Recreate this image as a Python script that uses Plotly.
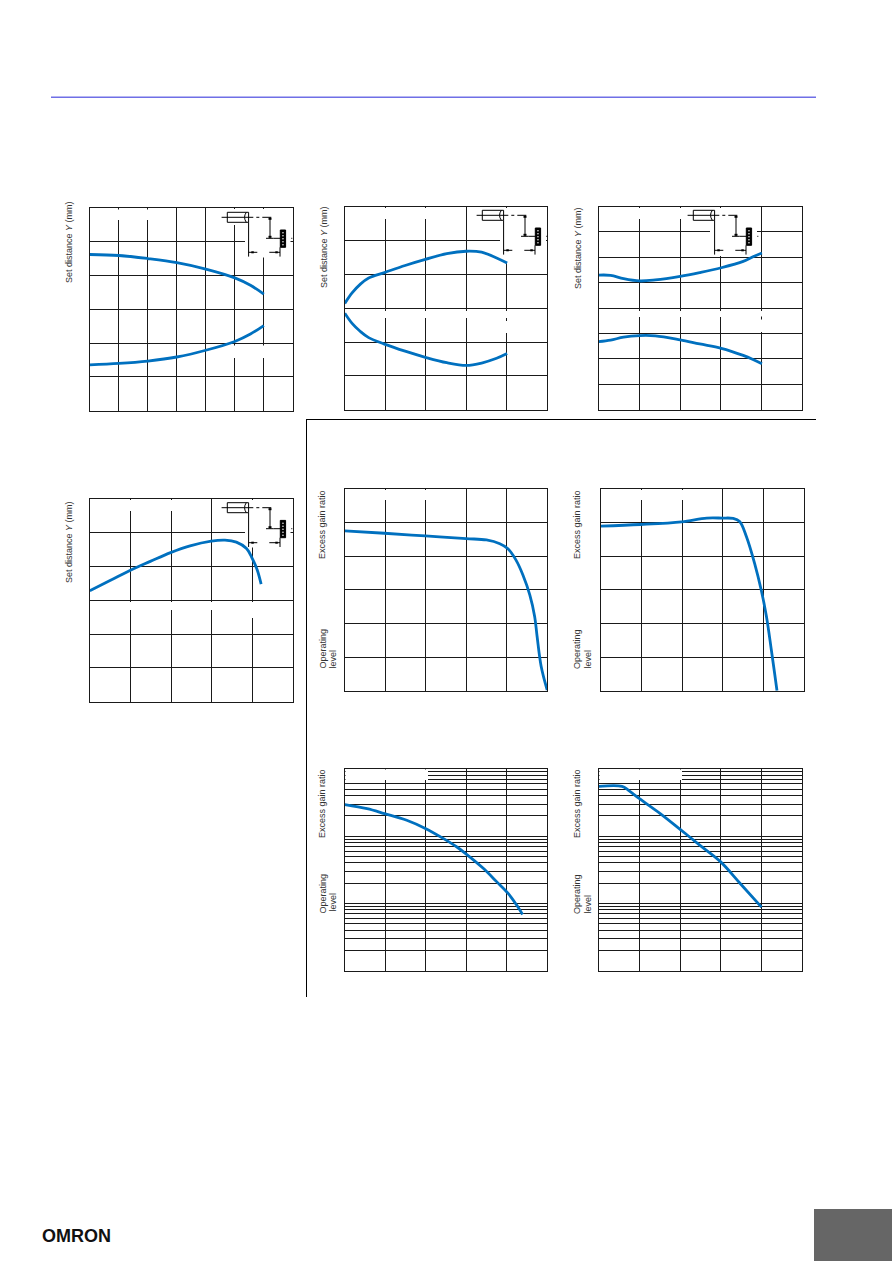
import plotly.graph_objects as go

W, H = 892, 1261
LINE = "#0070bf"
INK = "#1a1a1a"

# --- curve values (x and y in grid divisions; log charts in ratio on a 0.1..100 scale)
a_x = [0, 1, 2, 3, 4, 5, 5.54, 6.0]
a_upper = [4.62, 4.59, 4.50, 4.38, 4.19, 3.93, 3.71, 3.45]
a_lower = [1.36, 1.40, 1.47, 1.59, 1.79, 2.05, 2.27, 2.52]

b_x = [0, .18, .385, .59, .98, 1.49, 1.99, 2.52, 3.0, 3.38, 3.75, 4.01]
b_upper = [3.14, 3.45, 3.71, 3.89, 4.05, 4.26, 4.44, 4.61, 4.68, 4.65, 4.48, 4.33]
b_lower = [2.85, 2.55, 2.31, 2.13, 1.94, 1.73, 1.55, 1.39, 1.31, 1.38, 1.52, 1.66]

c_x = [0, .29, .61, 1.0, 1.39, 2.0, 2.48, 3.01, 3.55, 3.79, 4.01]
c_upper = [5.30, 5.29, 5.16, 5.07, 5.11, 5.25, 5.40, 5.59, 5.84, 6.02, 6.17]
c_lower = [2.68, 2.74, 2.86, 2.92, 2.91, 2.75, 2.59, 2.42, 2.14, 1.98, 1.81]

d_x = [0, .51, 1.0, 1.49, 1.99, 2.47, 2.99, 3.33, 3.61, 3.86, 4.0, 4.12, 4.22]
d_y = [3.28, 3.59, 3.89, 4.15, 4.41, 4.61, 4.75, 4.78, 4.72, 4.53, 4.24, 3.91, 3.48]

e_x = [0, .98, 1.99, 3.0, 3.5, 3.83, 4.03, 4.23, 4.4, 4.57, 4.69, 4.75, 4.85, 5.0]
e_y = [4.75, 4.68, 4.6, 4.52, 4.48, 4.37, 4.22, 3.88, 3.44, 2.85, 2.21, 1.62, .73, .02]

f_x = [0, .98, 1.99, 2.61, 2.99, 3.26, 3.42, 3.59, 3.79, 3.95, 4.08, 4.2, 4.28, 4.34]
f_y = [4.89, 4.94, 5.02, 5.13, 5.13, 5.12, 5.03, 4.57, 3.78, 3.0, 2.21, 1.22, .53, 0]

g_x = [0, .55, .98, 1.53, 1.99, 2.43, 2.76, 3.0, 3.42, 3.75, 4.03, 4.24, 4.39]
g_y = [29.4, 25.6, 21.6, 17.2, 13.0, 9.25, 6.95, 5.42, 3.33, 2.11, 1.42, .955, .687]

h_x = [0, .57, .73, 1.0, 1.51, 2.0, 2.48, 2.99, 3.47, 4.0]
h_y = [54.8, 54.8, 47.9, 36, 21.6, 12.6, 7.36, 4.18, 2.0, .883]

log_grid = [m * 10 ** e for e in (-1, 0, 1) for m in range(1, 10)] + [100]

# --- panel frames in page pixels: left, right, top, bottom, columns, rows
panels = {
    "a": (89.8, 292.8, 207.8, 410.8, 7, 6),
    "b": (344.8, 547.2, 206.5, 409.8, 5, 6),
    "c": (598.8, 802.2, 206.5, 409.8, 5, 8),
    "d": (89.8, 292.8, 498.8, 701.8, 5, 6),
    "e": (344.8, 547.2, 488.8, 690.8, 5, 6),
    "f": (600.8, 803.8, 488.8, 690.8, 5, 6),
    "g": (344.8, 547.2, 768.8, 970.8, 5, None),
    "h": (598.8, 802.2, 768.8, 970.8, 5, None),
}
series = {
    "a": [(a_x, a_upper), (a_x, a_lower)],
    "b": [(b_x, b_upper), (b_x, b_lower)],
    "c": [(c_x, c_upper), (c_x, c_lower)],
    "d": [(d_x, d_y)],
    "e": [(e_x, e_y)],
    "f": [(f_x, f_y)],
    "g": [(g_x, g_y)],
    "h": [(h_x, h_y)],
}
# gaps in the grid, page pixels: x0, x1, y0, y1
gaps = {
    "a": [(92, 157, 209.5, 220), (245, 290.5, 209, 257.5), (226, 245, 209, 225), (230, 268, 345.5, 358)],
    "b": [(347, 430, 208, 219), (500, 546, 208, 262), (346, 470, 311, 318), (504, 510, 311, 318), (504, 510, 321, 333)],
    "c": [(602, 683, 208, 219), (710, 757, 208, 256), (600, 725, 311, 317), (759, 765, 311, 316.5), (759, 765, 319.5, 332)],
    "d": [(92, 173, 500, 511), (245, 290.5, 500, 547.5), (92, 225, 602, 610), (247, 257, 602, 618)],
    "e": [(347, 430, 490, 500)],
    "f": [(603, 685, 490, 500)],
    "g": [(345.5, 428, 769.5, 780)],
    "h": [(599.5, 682, 769.5, 780)],
}
sensor_origins = [(227.3, 212.3), (482.3, 210.3), (693.3, 210.3), (227.3, 502.7)]

labels = [
    ("Set distance <i>Y</i> (mm)", 69, 242, "middle"),
    ("Set distance <i>Y</i> (mm)", 324, 247, "middle"),
    ("Set distance <i>Y</i> (mm)", 578, 248, "middle"),
    ("Set distance <i>Y</i> (mm)", 69, 542, "middle"),
    ("Excess gain ratio", 322, 525, "middle"),
    ("Excess gain ratio", 577, 525, "middle"),
    ("Excess gain ratio", 322, 804, "middle"),
    ("Excess gain ratio", 577, 804, "middle"),
    ("Operating", 322.5, 669, "bottom"),
    ("level", 332, 669, "bottom"),
    ("Operating", 577, 669, "bottom"),
    ("level", 587, 669, "bottom"),
    ("Operating", 322.5, 914, "bottom"),
    ("level", 332, 912, "bottom"),
    ("Operating", 577, 914, "bottom"),
    ("level", 587, 914, "bottom"),
]


def px(x):
    return x / W


def py(y):
    return 1 - y / H


fig = go.Figure()
shapes = []
annots = []


def page_line(x0, y0, x1, y1, color="#000000", width=1, dash=None):
    shapes.append(dict(type="line", xref="paper", yref="paper", x0=px(x0), x1=px(x1), y0=py(y0), y1=py(y1),
                       line=dict(color=color, width=width, dash=dash)))


def page_rect(x0, y0, x1, y1, fill=None, color="#000000", width=1):
    shapes.append(dict(type="rect", xref="paper", yref="paper", x0=px(x0), x1=px(x1), y0=py(y0), y1=py(y1),
                       fillcolor=fill or "rgba(0,0,0,0)", line=dict(color=color, width=width)))


layout = {}
for i, (key, (l, r, t, b, cols, rows)) in enumerate(panels.items(), start=1):
    xn, yn = f"x{i}", f"y{i}"
    is_log = rows is None
    xa = dict(domain=[px(l), px(r)], range=[0, cols], tickvals=list(range(cols + 1)), showticklabels=False,
              ticks="", showgrid=True, gridcolor=INK, gridwidth=1, zeroline=False, showline=True,
              linecolor=INK, linewidth=1, mirror=True, anchor=yn, fixedrange=True)
    ya = dict(domain=[py(b), py(t)], showticklabels=False, ticks="", showgrid=True, gridcolor=INK,
              gridwidth=1, zeroline=False, showline=True, linecolor=INK, linewidth=1, mirror=True,
              anchor=xn, fixedrange=True)
    if is_log:
        ya.update(type="log", range=[-1, 2], tickvals=log_grid)
    else:
        ya.update(range=[0, rows], tickvals=list(range(rows + 1)))
    layout[f"xaxis{i}"] = xa
    layout[f"yaxis{i}"] = ya

    for sx, sy in series[key]:
        fig.add_trace(go.Scatter(x=sx, y=sy, mode="lines", xaxis=xn, yaxis=yn, showlegend=False, hoverinfo="skip",
                                 cliponaxis=False,
                                 line=dict(color=LINE, width=2.8, shape="spline", smoothing=1.0)))

    def to_x(p):
        return (p - l) / (r - l) * cols

    def to_y(p):
        f = (b - p) / (b - t)
        return 10 ** (-1 + 3 * f) if is_log else f * rows

    for x0, x1, y0, y1 in gaps[key]:
        shapes.append(dict(type="rect", layer="between", xref=xn, yref=yn, x0=to_x(x0), x1=to_x(x1),
                           y0=to_y(y1), y1=to_y(y0), fillcolor="#ffffff", line=dict(width=0)))

# --- sensor sketches
for sx, sy in sensor_origins:
    page_rect(sx, sy, sx + 21.3, sy + 10)
    shapes.append(dict(type="path", xref="paper", yref="paper",
                       path=f"M {px(sx + 19)} {py(sy)} Q {px(sx + 15.5)} {py(sy + 5)} {px(sx + 19)} {py(sy + 10)}",
                       line=dict(color="#000000", width=1)))
    page_line(sx - 5.7, sy + 5, sx + 17, sy + 5)
    page_line(sx + 17, sy + 5, sx + 46.7, sy + 5, dash="dashdot")
    page_line(sx + 21.3, sy + 10, sx + 21.3, sy + 44.3)
    page_line(sx + 42.7, sy + 5, sx + 42.7, sy + 26)
    page_rect(sx + 41.2, sy + 5.5, sx + 44.2, sy + 7.5, fill="#000000", width=0)
    page_rect(sx + 41.2, sy + 23.5, sx + 44.2, sy + 25.5, fill="#000000", width=0)
    page_line(sx + 38.7, sy + 26, sx + 46, sy + 26)
    page_line(sx + 46, sy + 26, sx + 65, sy + 26, dash="dash")
    page_rect(sx + 53, sy + 17.7, sx + 58.3, sy + 35, fill="#000000")
    for k in (20.5, 23.5, 26.5, 29.5, 32.5):
        shapes.append(dict(type="circle", xref="paper", yref="paper", x0=px(sx + 54.6), x1=px(sx + 56.7),
                           y0=py(sy + k - 0.8), y1=py(sy + k + 0.8), fillcolor="#bbbbbb", line=dict(width=0)))
    page_line(sx + 21.3, sy + 40, sx + 30, sy + 40)
    page_line(sx + 42, sy + 40, sx + 52.7, sy + 40)
    page_rect(sx + 24, sy + 39, sx + 26.5, sy + 41, fill="#000000", width=0)
    page_rect(sx + 48, sy + 39, sx + 50.5, sy + 41, fill="#000000", width=0)
    page_line(sx + 52.7, sy + 35, sx + 52.7, sy + 44.3)

# --- page furniture
page_line(51, 97.3, 816, 97.3, color="#6f6fe6", width=1.6)
page_line(306, 419.5, 816, 419.5, color="#000000", width=1)
page_line(306.5, 419, 306.5, 997, color="#000000", width=1)
page_rect(814, 1209, 892, 1261, fill="#666666", color="#666666", width=0)

for text, x, y, anchor in labels:
    annots.append(dict(text=text, xref="paper", yref="paper", x=px(x), y=py(y), showarrow=False, textangle=-90,
                       xanchor="center", yanchor=anchor, font=dict(family="Liberation Sans", size=9, color="#333333"),
                       borderpad=0, borderwidth=0))
annots.append(dict(text="<b>OMRON</b>", xref="paper", yref="paper", x=px(76), y=py(1235.5), showarrow=False,
                   xanchor="center", yanchor="middle", font=dict(family="Liberation Sans", size=18, color="#111111")))

fig.update_layout(width=W, height=H, margin=dict(l=0, r=0, t=0, b=0), paper_bgcolor="#ffffff",
                  plot_bgcolor="rgba(0,0,0,0)", showlegend=False, shapes=shapes, annotations=annots, **layout)
fig.write_html("out.html", config={"displayModeBar": False},
               post_script="document.body.style.margin='0';document.documentElement.style.overflow='hidden';")
